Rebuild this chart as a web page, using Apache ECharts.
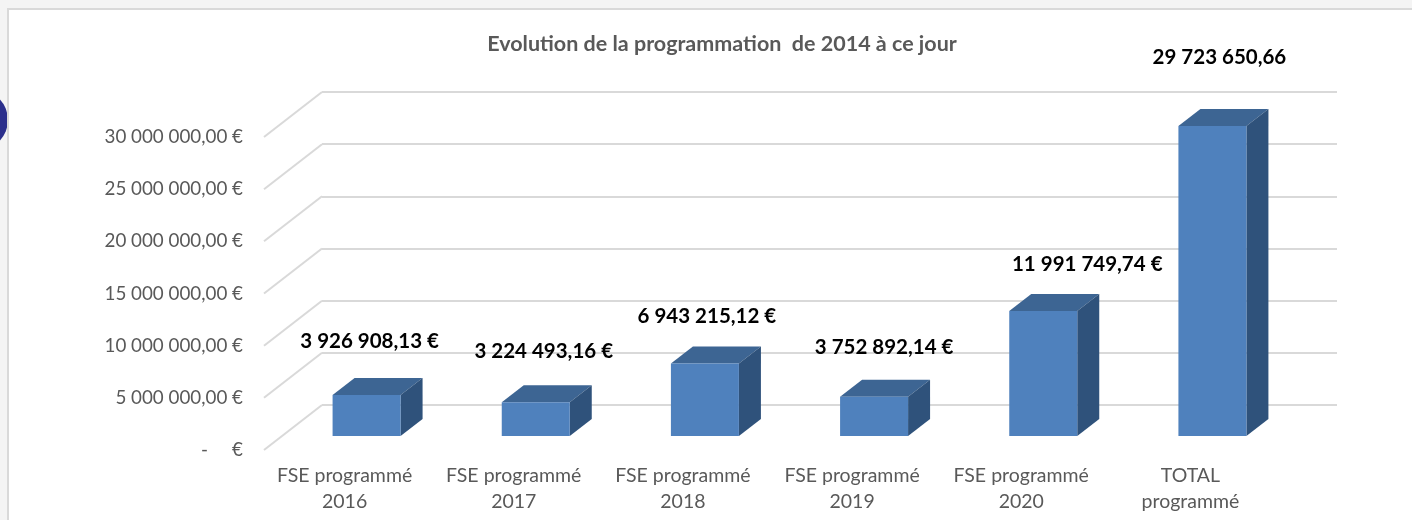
<!DOCTYPE html>
<html>
<head>
<meta charset="utf-8">
<script src="https://cdn.jsdelivr.net/npm/echarts/dist/echarts.min.js"></script>
<style>
  html, body { margin: 0; padding: 0; background: #f4f4f4; }
  #chart { width: 1412px; height: 520px; }
</style>
</head>
<body>
<div id="chart"></div>
<script>
// données
const categories = ['FSE programmé\n2016', 'FSE programmé\n2017', 'FSE programmé\n2018',
                    'FSE programmé\n2019', 'FSE programmé\n2020', 'TOTAL\nprogrammé'];
const montants = [3926908.13, 3224493.16, 6943215.12, 3752892.14, 11991749.74, 29723650.66];
const unites = ['€', '€', '€', '€', '€', ''];
const yTicks = [0, 5000000, 10000000, 15000000, 20000000, 25000000, 30000000];

// mise en page pseudo 3D (paroi du fond, plan des barres, bord avant)
const wall = { left: 322, top: 92, width: 1015, height: 313 };
const depthX = 58, depthY = 45;          // profondeur totale du plancher
const barShiftX = 40, barShiftY = 31;    // plan avant des barres / paroi
const barW = 68, barDX = 22, barDY = 17; // largeur et profondeur d'une barre
const labelNudge = [[3, -54], [8, -51], [2, -47], [10, -49], [44, -46], [7, -68]];

const FONT = 'Lato, "Open Sans", sans-serif';

function fr(v) {
  let parts = v.toFixed(2).split('.');
  let ent = parts[0].replace(/\B(?=(\d{3})+(?!\d))/g, ' ');
  return ent + ',' + parts[1];
}

let chart = echarts.init(document.getElementById('chart'));

let option = {
  backgroundColor: '#f4f4f4',
  animation: false,
  title: {
    text: 'Evolution de la programmation  de 2014 à ce jour',
    left: 717,
    textAlign: 'center',
    top: 28,
    textStyle: { fontFamily: FONT, fontSize: 21.5, fontWeight: 'bold', color: '#595959' }
  },
  graphic: [
    {
      type: 'circle', z: -10, silent: true,
      shape: { cx: -22, cy: 120, r: 30 },
      style: { fill: '#2b2f8c' }
    },
    {
      type: 'rect', z: -9, silent: true,
      shape: { x: 8, y: 9, width: 1420, height: 530 },
      style: { fill: '#ffffff', stroke: '#d9d9d9', lineWidth: 2 }
    }
  ],
  grid: [
    { left: wall.left, top: wall.top, width: wall.width, height: wall.height },
    { left: wall.left - barShiftX, top: wall.top + barShiftY, width: wall.width, height: wall.height },
    { left: wall.left - depthX - 4, top: wall.top + depthY, width: wall.width, height: wall.height }
  ],
  xAxis: [
    { type: 'category', gridIndex: 0, data: categories, show: false },
    { type: 'category', gridIndex: 1, data: categories, show: false },
    {
      type: 'category', gridIndex: 2, data: categories,
      axisLine: { show: false }, axisTick: { show: false },
      axisLabel: {
        interval: 0, hideOverlap: false,
        margin: 13, fontFamily: FONT, fontSize: 19.5, lineHeight: 26, color: '#595959'
      }
    }
  ],
  yAxis: [
    {
      type: 'value', gridIndex: 0, min: 0, max: 30000000, interval: 5000000,
      axisLabel: { show: false }, axisLine: { show: false }, axisTick: { show: false },
      splitLine: { lineStyle: { color: '#d9d9d9', width: 2 } }
    },
    { type: 'value', gridIndex: 1, min: 0, max: 30000000, interval: 5000000, show: false },
    {
      type: 'value', gridIndex: 2, min: 0, max: 30000000, interval: 5000000,
      axisLine: { show: false }, axisTick: { show: false }, splitLine: { show: false },
      axisLabel: {
        margin: 17, fontFamily: FONT, fontSize: 18.8, color: '#595959',
        formatter: function (v) { return v === 0 ? '-     €' : fr(v) + ' €'; }
      }
    }
  ],
  series: [
    {
      // arêtes obliques du plancher/paroi gauche
      type: 'custom',
      xAxisIndex: 0, yAxisIndex: 0,
      silent: true, clip: false, z: 1,
      data: yTicks.map(v => [0, v]),
      renderItem: function (params, api) {
        let y = api.coord([0, api.value(1)])[1];
        let x = params.coordSys.x;
        return {
          type: 'line',
          shape: { x1: x, y1: y, x2: x - depthX, y2: y + depthY },
          style: { stroke: '#d9d9d9', lineWidth: 2 }
        };
      }
    },
    {
      // barres 3D
      type: 'custom',
      xAxisIndex: 1, yAxisIndex: 1,
      silent: true, clip: false, z: 5,
      data: montants.map((v, i) => [i, v]),
      renderItem: function (params, api) {
        let i = api.value(0);
        let base = api.coord([i, 0]);
        let top = api.coord([i, api.value(1)]);
        let x0 = top[0] - barW / 2, x1 = top[0] + barW / 2;
        let yt = top[1], yb = base[1];
        let nudge = labelNudge[params.dataIndex];
        let u = unites[params.dataIndex];
        return {
          type: 'group',
          children: [
            {
              type: 'polygon',
              shape: { points: [[x0, yt], [x1, yt], [x1 + barDX, yt - barDY], [x0 + barDX, yt - barDY]] },
              style: { fill: '#3d6593' }
            },
            {
              type: 'polygon',
              shape: { points: [[x1, yt], [x1 + barDX, yt - barDY], [x1 + barDX, yb - barDY], [x1, yb]] },
              style: { fill: '#2f527b' }
            },
            {
              type: 'rect',
              shape: { x: x0, y: yt, width: barW, height: yb - yt },
              style: { fill: '#4f81bd' }
            },
            {
              type: 'text',
              style: {
                text: fr(api.value(1)) + (u ? ' ' + u : ''),
                x: top[0] + nudge[0], y: yt + nudge[1],
                align: 'center', verticalAlign: 'middle',
                fontFamily: FONT, fontSize: 20.5, fontWeight: 'bold', fill: '#000000'
              }
            }
          ]
        };
      }
    }
  ]
};

chart.setOption(option);
</script>
</body>
</html>
